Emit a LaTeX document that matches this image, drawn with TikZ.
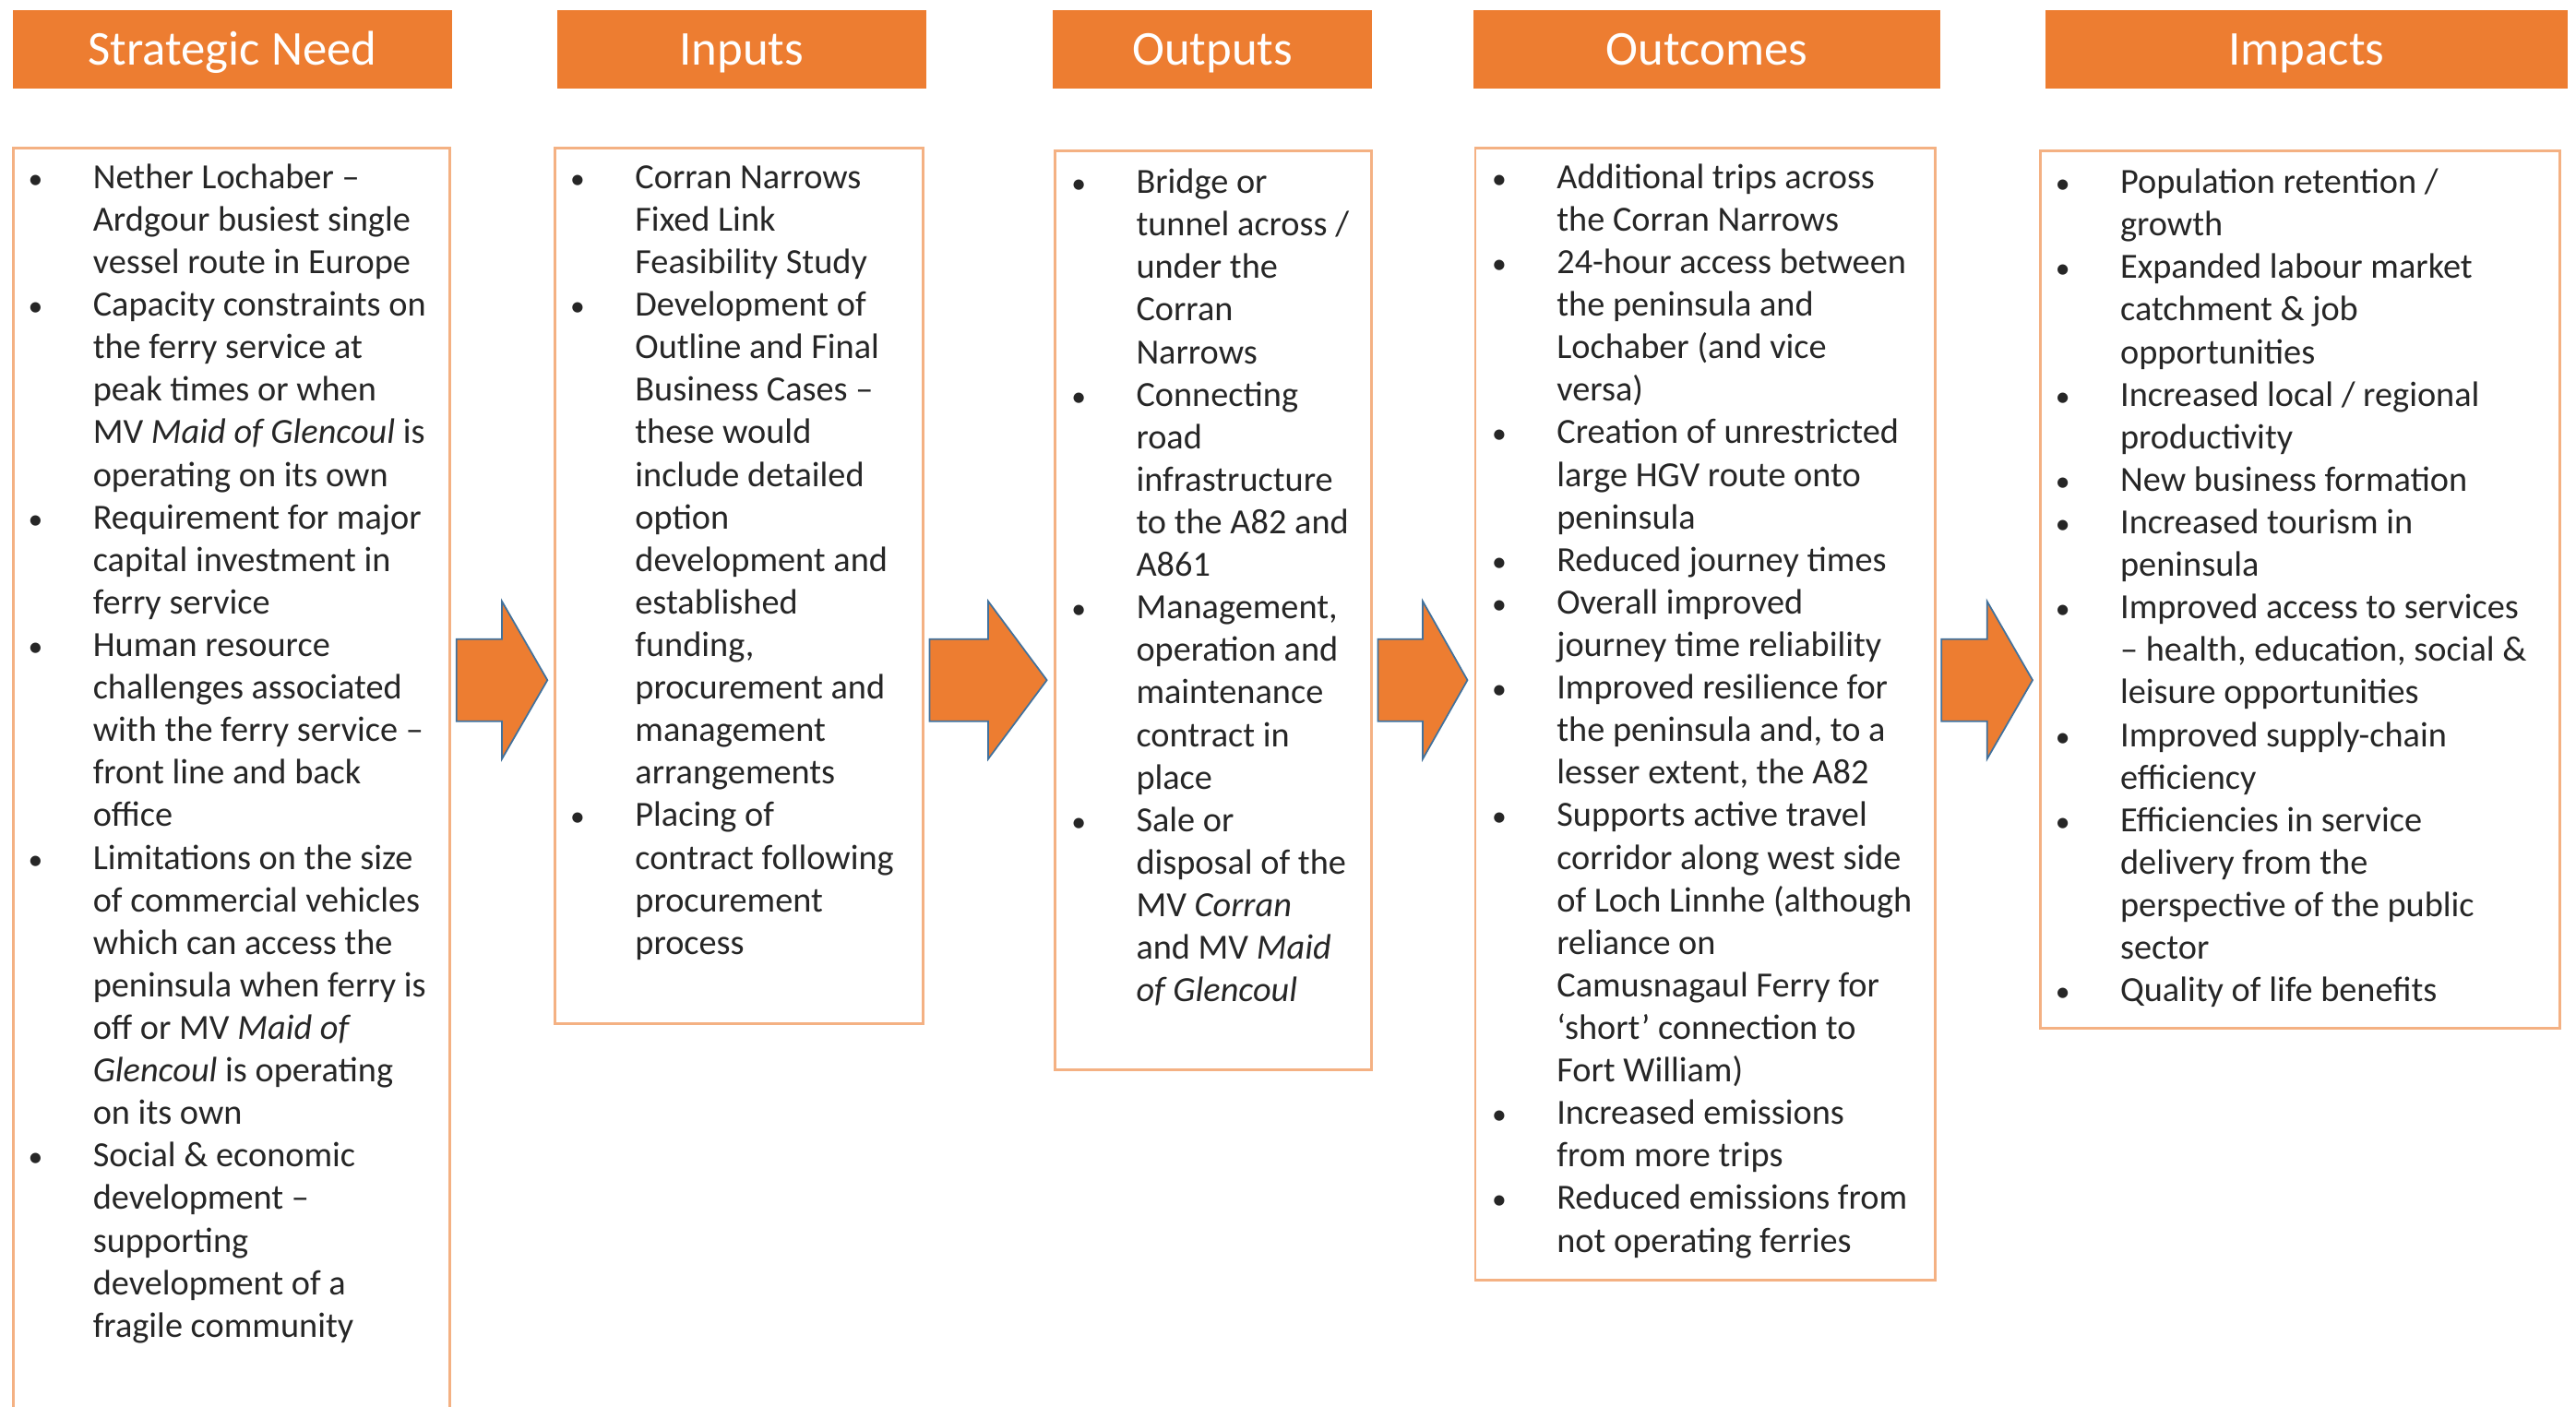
\documentclass[tikz,border=0pt]{standalone}
\usepackage{fontspec}
\setmainfont{Carlito}
\usetikzlibrary{positioning,fit,calc}
\definecolor{hdrorange}{HTML}{ED7D31}
\definecolor{boxline}{HTML}{F4B183}
\definecolor{arrowline}{HTML}{41719C}
\definecolor{bodytext}{HTML}{262626}
\newcommand\pu{0.017806cm}
\newcommand\bul{\strut\llap{{\fontsize{9}{9}\selectfont\textbullet}\hspace{15.5pt}}}

\begin{document}
\begin{tikzpicture}[x=\pu,y=-\pu,
  header/.style={fill=hdrorange,inner sep=0,text=white,minimum height=48*\pu,
                 text height=9.66pt,text depth=0pt,font=\fontsize{15}{18}\selectfont},
  listbox/.style={draw=boxline,line width=0.8pt,inner sep=0},
  listtext/.style={anchor=north west,inner sep=0,align=left,text=bodytext,
                   font=\fontsize{10.9}{13.12}\selectfont},
  flowarrow/.style={fill=hdrorange,draw=arrowline,line width=0.5pt,line join=miter}]
  \useasboundingbox (0,0) rectangle (1568,856);

  % column headers
  \node[header,minimum width=267*\pu] (needhd)     at (141.5,30) {Strategic Need};
  \node[header,minimum width=225*\pu] (inputshd)   at (451.5,30) {Inputs};
  \node[header,minimum width=194*\pu] (outputshd)  at (738,30)   {Outputs};
  \node[header,minimum width=284*\pu] (outcomeshd) at (1039,30)  {Outcomes};
  \node[header,minimum width=318*\pu] (impactshd)  at (1404,30)  {Impacts};

  % list boxes
  \node[listbox,fit={(8,90) (274,858)}]    (need)     {};
  \node[listbox,fit={(338,90) (562,623)}]  (inputs)   {};
  \node[listbox,fit={(642,92) (835,651)}]  (outputs)  {};
  \node[listbox,fit={(898,90) (1178,779)}] (outcomes) {};
  \node[listbox,fit={(1242,92) (1558,626)}] (impacts) {};

  \node[listtext] (needlist) at ($(need.north west)+(49,7)$) {%
    \bul Nether Lochaber --\\ Ardgour busiest single\\ vessel route in Europe\\
    \bul Capacity constraints on\\ the ferry service at\\ peak times or when\\
      MV \textit{Maid of Glencoul} is\\ operating on its own\\
    \bul Requirement for major\\ capital investment in\\ ferry service\\
    \bul Human resource\\ challenges associated\\ with the ferry service --\\
      front line and back\\ office\\
    \bul Limitations on the size\\ of commercial vehicles\\ which can access the\\
      peninsula when ferry is\\ off or MV \textit{Maid of}\\
      \textit{Glencoul} is operating\\ on its own\\
    \bul Social \& economic\\ development --\\ supporting\\ development of a\\
      fragile community};
  \node[listtext] (inputslist) at ($(inputs.north west)+(49,7)$) {%
    \bul Corran Narrows\\ Fixed Link\\ Feasibility Study\\
    \bul Development of\\ Outline and Final\\ Business Cases --\\ these would\\
      include detailed\\ option\\ development and\\ established\\ funding,\\
      procurement and\\ management\\ arrangements\\
    \bul Placing of\\ contract following\\ procurement\\ process};
  \node[listtext] (outputslist) at ($(outputs.north west)+(50,8)$) {%
    \bul Bridge or\\ tunnel across /\\ under the\\ Corran\\ Narrows\\
    \bul Connecting\\ road\\ infrastructure\\ to the A82 and\\ A861\\
    \bul Management,\\ operation and\\ maintenance\\ contract in\\ place\\
    \bul Sale or\\ disposal of the\\ MV \textit{Corran}\\ and MV \textit{Maid}\\
      \textit{of Glencoul}};
  \node[listtext] (outcomeslist) at ($(outcomes.north west)+(50,7)$) {%
    \bul Additional trips across\\ the Corran Narrows\\
    \bul 24-hour access between\\ the peninsula and\\ Lochaber (and vice\\ versa)\\
    \bul Creation of unrestricted\\ large HGV route onto\\ peninsula\\
    \bul Reduced journey times\\
    \bul Overall improved\\ journey time reliability\\
    \bul Improved resilience for\\ the peninsula and, to a\\ lesser extent, the A82\\
    \bul Supports active travel\\ corridor along west side\\ of Loch Linnhe (although\\
      reliance on\\ Camusnagaul Ferry for\\ `short' connection to\\ Fort William)\\
    \bul Increased emissions\\ from more trips\\
    \bul Reduced emissions from\\ not operating ferries};
  \node[listtext] (impactslist) at ($(impacts.north west)+(49,8)$) {%
    \bul Population retention /\\ growth\\
    \bul Expanded labour market\\ catchment \& job\\ opportunities\\
    \bul Increased local / regional\\ productivity\\
    \bul New business formation\\
    \bul Increased tourism in\\ peninsula\\
    \bul Improved access to services\\ -- health, education, social \&\\
      leisure opportunities\\
    \bul Improved supply-chain\\ efficiency\\
    \bul Efficiencies in service\\ delivery from the\\ perspective of the public\\
      sector\\
    \bul Quality of life benefits};

  % block arrows between the columns
  \coordinate (axis) at (0,414);
  \foreach \s/\t in {need/inputs,inputs/outputs,outputs/outcomes,outcomes/impacts}{
    \coordinate (tail) at ($(\s.east|-axis)+(3,0)$);
    \coordinate (tip)  at ($(\t.west|-axis)+(-4,0)$);
    \coordinate (neck) at ($(tail)!.5!(tip)$);
    \draw[flowarrow] ($(tail)+(0,-25)$) -- ($(neck)+(0,-25)$) -- ($(neck)+(0,-48)$)
      -- (tip) -- ($(neck)+(0,48)$) -- ($(neck)+(0,25)$) -- ($(tail)+(0,25)$) -- cycle;
  }
\end{tikzpicture}
\end{document}
